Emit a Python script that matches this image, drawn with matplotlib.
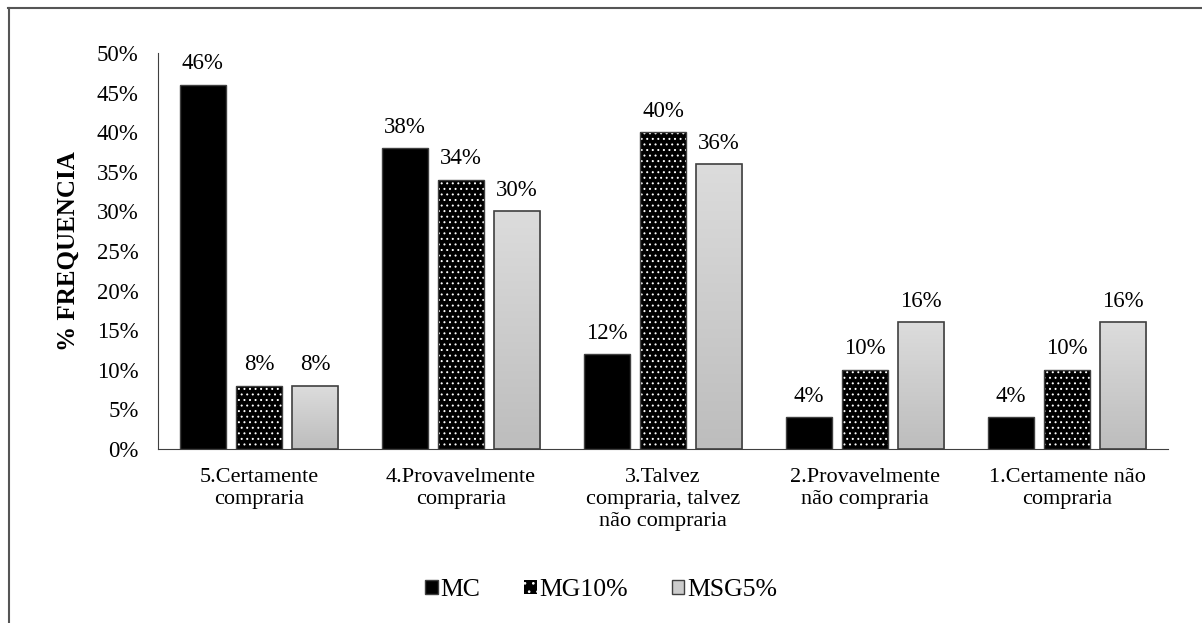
import numpy as np
import matplotlib
matplotlib.use("Agg")
import matplotlib.pyplot as plt
from matplotlib.patches import Rectangle
from matplotlib.lines import Line2D

plt.rcParams['font.family'] = ['Liberation Serif', 'DejaVu Serif']
plt.rcParams['hatch.linewidth'] = 0.7

categories = ["5.Certamente\ncompraria", "4.Provavelmente\ncompraria",
              "3.Talvez\ncompraria, talvez\nnão compraria",
              "2.Provavelmente\nnão compraria", "1.Certamente não\ncompraria"]
mc = [46, 38, 12, 4, 4]
mg10 = [8, 34, 40, 10, 10]
msg5 = [8, 30, 36, 16, 16]
series_names = ["MC", "MG10%", "MSG5%"]

fig = plt.figure(figsize=(12.02, 6.23), dpi=100)
ax = fig.add_axes([0.1315, 0.2793, 0.8402, 0.6357])

x = np.arange(len(categories))
w = 0.228
step = 0.278
edge = "#404040"

# MC: solid black
b1 = ax.bar(x - step, mc, w, color="black", edgecolor=edge, linewidth=1, label=series_names[0])

# MG10%: black with small white dots
ax.bar(x, mg10, w, color="black", edgecolor="white", hatch="...", linewidth=0)
b2 = ax.bar(x, mg10, w, color="none", edgecolor=edge, linewidth=1)

# MSG5%: light grey gradient
b3 = ax.bar(x + step, msg5, w, color="#cccccc", edgecolor=edge, linewidth=1.2, zorder=3)
grad = np.linspace(0, 1, 100).reshape(-1, 1)
cmap = matplotlib.colors.LinearSegmentedColormap.from_list("g", ["#bdbdbd", "#dcdcdc"])
for r in b3:
    x0, y0 = r.get_x(), r.get_y()
    im = ax.imshow(grad, cmap=cmap, aspect="auto", origin="lower",
                   extent=[x0, x0 + r.get_width(), y0, y0 + r.get_height()], zorder=2)
    im.set_clip_path(r)
    r.set_facecolor("none")

for bars, vals in ((b1, mc), (b2, mg10), (b3, msg5)):
    for r, v in zip(bars, vals):
        ax.text(r.get_x() + r.get_width() / 2, v + 1.3, f"{v}%", ha="center", va="bottom",
                fontsize=16.5, zorder=5)

ax.set_xlim(-0.5, len(categories) - 0.5)
ax.set_ylim(0, 50)
ax.set_yticks(np.arange(0, 51, 5))
ax.set_yticklabels([f"{t}%" for t in range(0, 51, 5)], fontsize=16.5)
ax.set_xticks(x)
ax.set_xticklabels(categories, fontsize=16, linespacing=1.2)
ax.tick_params(axis="x", length=0, pad=14)
ax.tick_params(axis="y", length=0, pad=14)
for s in ("top", "right"):
    ax.spines[s].set_visible(False)
ax.spines["left"].set_color("#404040")
ax.spines["bottom"].set_color("#404040")
ax.set_ylabel("% FREQUENCIA", fontsize=18, fontweight="bold", labelpad=12)

# legend
h1 = Rectangle((0, 0), 1, 1, facecolor="black", edgecolor=edge)
h2 = Rectangle((0, 0), 1, 1, facecolor="black", edgecolor="white", hatch="..", linewidth=0)
h3 = Rectangle((0, 0), 1, 1, facecolor="#cccccc", edgecolor=edge)
fig.legend([h1, h2, h3], series_names, loc="center", bbox_to_anchor=(0.5, 0.053),
           ncol=3, frameon=False, fontsize=18.5, handlelength=0.5, handleheight=0.5,
           handletextpad=0.1, columnspacing=1.7)

# outer frame
fig.add_artist(Line2D([8 / 1202, 1.0], [1 - 7.5 / 623] * 2, color="#555555", lw=1.5))
fig.add_artist(Line2D([8.5 / 1202] * 2, [0, 1 - 7.5 / 623], color="#555555", lw=1.5))

fig.savefig("out.png", dpi=100)
